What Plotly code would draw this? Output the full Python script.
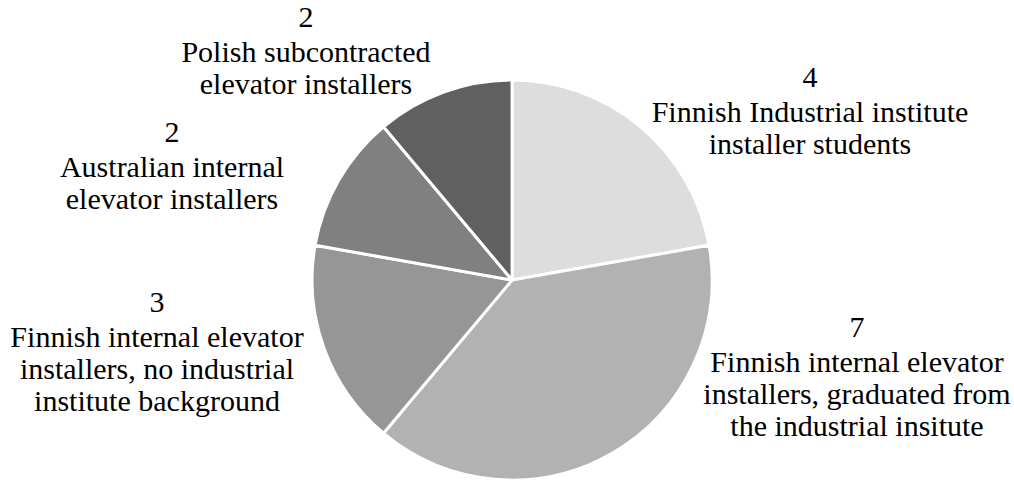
import plotly.graph_objects as go

# Group names (one entry per printed line) and head counts, clockwise from 12 o'clock
groups = [
    ["Finnish Industrial institute", "installer students"],
    ["Finnish internal elevator", "installers, graduated from", "the industrial insitute"],
    ["Finnish internal elevator", "installers, no industrial", "institute background"],
    ["Australian internal", "elevator installers"],
    ["Polish subcontracted", "elevator installers"],
]
counts = [4, 7, 3, 2, 2]
shades = ["#dddddd", "#b2b2b2", "#969696", "#808080", "#606060"]

W, H = 1014, 482
SIZE = 30
# label block anchor: centre x and baseline of the first line (px from top-left)
block_pos = [(810, 88), (857, 338), (157, 313), (172, 143), (306, 28)]
line_offsets = [0, 35, 67, 99]

fig = go.Figure()
fig.add_trace(
    go.Pie(
        values=counts,
        sort=False,
        direction="clockwise",
        rotation=0,
        marker=dict(colors=shades, line=dict(color="white", width=3)),
        textinfo="none",
        showlegend=False,
        domain=dict(x=[0.01, 1.0], y=[0.004, 0.834]),
    )
)

# Labels as a text-only scatter on an invisible pixel-sized axis pair
lx, ly, lt = [], [], []
for lines, c, (cx, base) in zip(groups, counts, block_pos):
    for text, off in zip([str(c)] + lines, line_offsets):
        lx.append(cx)
        ly.append(base + off - 0.3 * SIZE)
        lt.append(text)

fig.add_trace(
    go.Scatter(
        x=lx,
        y=ly,
        text=lt,
        mode="text",
        textposition="middle center",
        textfont=dict(family="Liberation Serif", size=SIZE, color="black"),
        hoverinfo="skip",
        showlegend=False,
    )
)

fig.update_xaxes(range=[0, W], visible=False, fixedrange=True)
fig.update_yaxes(range=[H, 0], visible=False, fixedrange=True)
fig.update_layout(
    width=W,
    height=H,
    margin=dict(l=0, r=0, t=0, b=0),
    paper_bgcolor="white",
    plot_bgcolor="rgba(0,0,0,0)",
)

fig.write_html("out.html")
